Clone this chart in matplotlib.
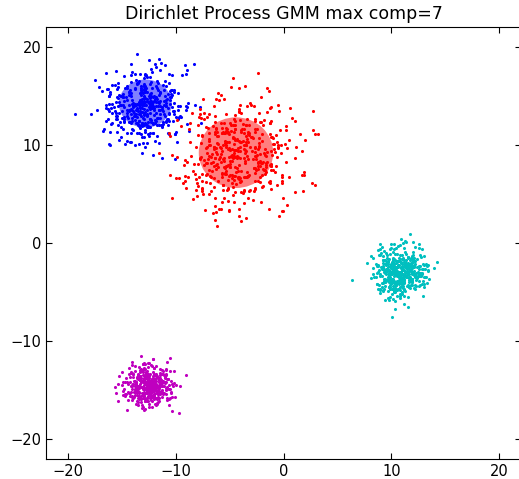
import numpy as np
import matplotlib
matplotlib.use("Agg")
import matplotlib.pyplot as plt
from matplotlib.patches import Ellipse

# cluster parameters (centre, spread, point count)
colors = ['b', 'r', 'c', 'm']
centers_x = [-12.8, -4.4, 10.7, -12.5]
centers_y = [14.2, 9.2, -3.0, -14.5]
spreads = [2.0, 2.7, 1.25, 1.1]
counts = [420, 480, 450, 420]

# fitted components that show an ellipse
ell_x = [-12.8, -4.4]
ell_y = [14.2, 9.2]
ell_w = [4.9, 6.9]
ell_h = [4.9, 7.2]
ell_colors = ['b', 'r']

title = 'Dirichlet Process GMM max comp=7'
ticks = [-20, -10, 0, 10, 20]

# the points are samples from each cluster and cannot be read one by one
rng = np.random.default_rng(7)

fig = plt.figure(figsize=(5.19, 4.79), dpi=100)
ax = fig.add_axes([46 / 519, 20 / 479, 475 / 519, 432 / 479])

for c, cx, cy, sd, n in zip(colors, centers_x, centers_y, spreads, counts):
    pts = rng.normal([cx, cy], sd, size=(n, 2))
    ax.scatter(pts[:, 0], pts[:, 1], s=5, color=c, linewidths=0)

for x, y, w, h, c in zip(ell_x, ell_y, ell_w, ell_h, ell_colors):
    e = Ellipse((x, y), w, h, angle=0, color=c, alpha=0.5, linewidth=0)
    ax.add_artist(e)

ax.set_xlim(-22, 22)
ax.set_ylim(-22, 22)
ax.set_xticks(ticks)
ax.set_yticks(ticks)
ax.tick_params(direction='in', top=True, right=True, labelsize=10.5, length=4)
ax.set_title(title, fontsize=12.5)

fig.savefig('out.png', dpi=100)
